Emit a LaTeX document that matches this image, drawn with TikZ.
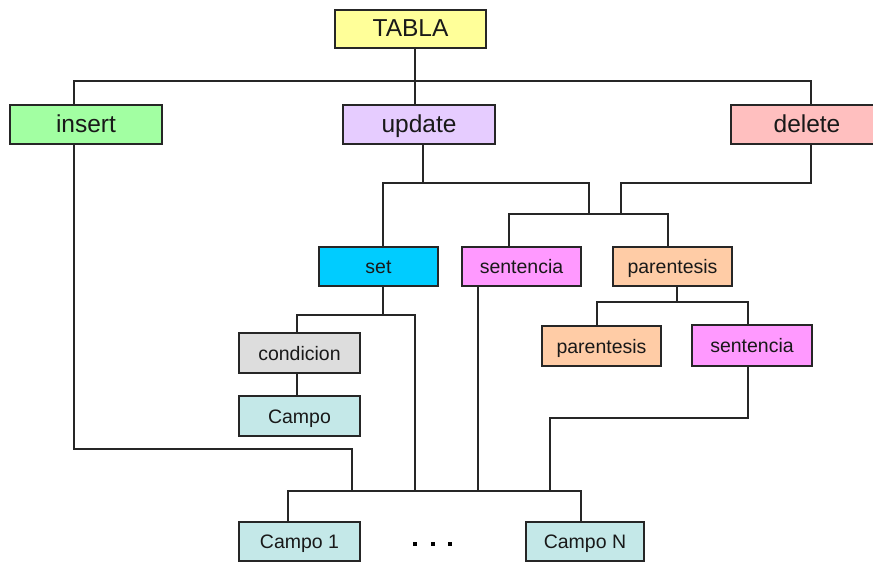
\documentclass[tikz,border=0pt]{standalone}
\usepackage{fontspec}
\setmainfont{Liberation Sans}
\definecolor{cTabla}{HTML}{FFFF99}
\definecolor{cInsert}{HTML}{A2FFA2}
\definecolor{cUpdate}{HTML}{E6CCFF}
\definecolor{cDelete}{HTML}{FFBFBF}
\definecolor{cSet}{HTML}{00CCFF}
\definecolor{cSent}{HTML}{FF99FF}
\definecolor{cParen}{HTML}{FFCCA6}
\definecolor{cCond}{HTML}{DDDDDD}
\definecolor{cCampo}{HTML}{C4E8E8}
\definecolor{cLine}{HTML}{262626}
\begin{document}
\begin{tikzpicture}[x=1pt,y=-1pt,
  box/.style={draw=cLine,line width=1.5pt,inner sep=0pt,text=black!90},
  topbox/.style={box,minimum width=152pt,minimum height=39pt,
    text height=17.6pt,text depth=2pt,font=\fontsize{24.5}{24.5}\selectfont},
  subbox/.style={box,minimum width=119pt,minimum height=39pt,
    text height=14.4pt,text depth=0pt,font=\fontsize{19.5}{19.5}\selectfont},
  wire/.style={draw=cLine,line width=1.4pt}]
\useasboundingbox (0,0) rectangle (873,562);
\begin{scope}
\clip (0,0) rectangle (873,562);
% top level
\node[topbox,fill=cTabla,minimum width=151pt,minimum height=38pt] (tabla) at (410.5,29) {TABLA};
\node[topbox,fill=cInsert] (insert) at (86,124.5) {insert};
\node[topbox,fill=cUpdate] (update) at (419,124.5) {update};
\node[topbox,fill=cDelete] (delete) at (807,124.5) {delete};
% second level
\node[subbox,fill=cSet] (set) at (378.5,266.5) {set};
\node[subbox,fill=cSent] (sent1) at (521.5,266.5) {sentencia};
\node[subbox,fill=cParen] (par1) at (672.5,266.5) {parentesis};
\node[subbox,fill=cParen,minimum height=40pt] (par2) at (601.5,346) {parentesis};
\node[subbox,fill=cSent,minimum width=120pt,minimum height=41pt] (sent2) at (752,345.5) {sentencia};
\node[subbox,fill=cCond,minimum width=121pt,minimum height=40pt] (cond) at (299.5,353) {condicion};
\node[subbox,fill=cCampo,minimum width=121pt,minimum height=40pt] (campo) at (299.5,416) {Campo};
\node[subbox,fill=cCampo,minimum width=121pt] (campo1) at (299.5,541.5) {Campo 1};
\node[subbox,fill=cCampo,minimum width=118pt] (campoN) at (585,541.5) {Campo N};
\end{scope}
% ellipsis between the field boxes
\foreach \dx in {415,433,450}
  \fill[black] (\dx-2,542) rectangle (\dx+2,546);
% junction levels
\coordinate (busA) at (0,81);
\coordinate (busU) at (0,183);
\coordinate (busS) at (0,214);
\coordinate (busSet) at (0,315);
\coordinate (busP) at (0,302);
\coordinate (busC) at (0,491);
% TABLA to the three statements
\draw[wire] (tabla.south -| 415,0) -- (update.north -| 415,0);
\draw[wire] (insert.north -| 74,0) -- (busA -| 74,0) -- (busA -| 811,0) -- (delete.north -| 811,0);
% update branch
\draw[wire] (update.south -| 423,0) -- (busU -| 423,0);
\draw[wire] (set.north -| 383,0) -- (busU -| 383,0) -- (busU -| 589,0) -- (busS -| 589,0);
% delete branch
\draw[wire] (delete.south -| 811,0) -- (busU -| 811,0) -- (busU -| 621,0) -- (busS -| 621,0);
% sentencia / parentesis choice
\draw[wire] (sent1.north -| 509,0) -- (busS -| 509,0) -- (busS -| 668,0) -- (par1.north -| 668,0);
% nested parentesis
\draw[wire] (par1.south -| 677,0) -- (busP -| 677,0);
\draw[wire] (par2.north -| 597,0) -- (busP -| 597,0) -- (busP -| 748,0) -- (sent2.north -| 748,0);
% set branch
\draw[wire] (set.south -| 383,0) -- (busSet -| 383,0);
\draw[wire] (cond.north -| 297,0) -- (busSet -| 297,0) -- (busSet -| 415,0) -- (busC -| 415,0);
\draw[wire] (cond.south -| 297,0) -- (campo.north -| 297,0);
% lines gathering into the field list
\draw[wire] (insert.south -| 74,0) -- (74,449) -- (352,449) -- (busC -| 352,0);
\draw[wire] (sent1.south -| 478,0) -- (busC -| 478,0);
\draw[wire] (sent2.south -| 748,0) -- (748,418) -- (550,418) -- (busC -| 550,0);
\draw[wire] (campo1.north -| 288,0) -- (busC -| 288,0) -- (busC -| 581,0) -- (campoN.north -| 581,0);
\end{tikzpicture}
\end{document}
